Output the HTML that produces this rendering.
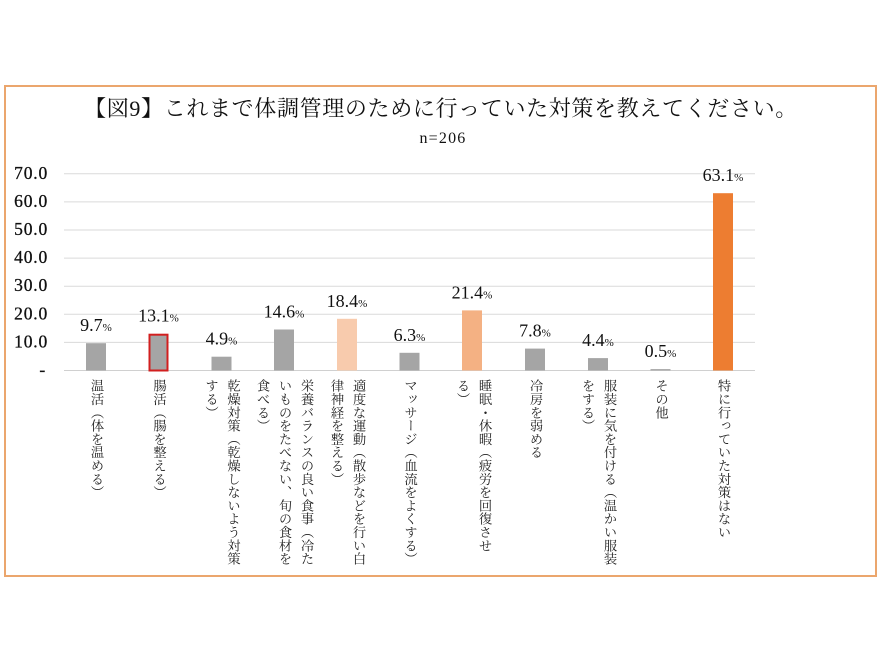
<!DOCTYPE html>
<html lang="ja">
<head>
<meta charset="utf-8">
<style>
  html,body{margin:0;padding:0;background:#fff;}
  #wrap{position:relative;width:883px;height:662px;overflow:hidden;background:#fff;}
  svg{position:absolute;left:0;top:0;}
  .vl{position:absolute;top:379px;writing-mode:vertical-rl;white-space:nowrap;
      font-family:"Liberation Serif","Noto Serif CJK SC",serif;font-size:13.3px;line-height:22px;color:#222;}
</style>
</head>
<body>
<div id="wrap">
<svg width="883" height="662" viewBox="0 0 883 662" xmlns="http://www.w3.org/2000/svg">
  <rect x="5" y="86" width="871" height="490" fill="#fff" stroke="#EBA66D" stroke-width="2"/>
  <text x="441" y="116" text-anchor="middle" font-family="Liberation Serif, Noto Serif CJK SC, serif" font-size="22" letter-spacing="0.65" fill="#111">【図9】これまで体調管理のために行っていた対策を教えてください。</text>
  <text x="443" y="143" text-anchor="middle" font-family="Liberation Serif, serif" font-size="16" letter-spacing="1.2" fill="#111">n=206</text>

  <g stroke="#DADADA" stroke-width="1">
    <line x1="64" x2="755" y1="173.8" y2="173.8"/>
    <line x1="64" x2="755" y1="201.9" y2="201.9"/>
    <line x1="64" x2="755" y1="230" y2="230"/>
    <line x1="64" x2="755" y1="258.1" y2="258.1"/>
    <line x1="64" x2="755" y1="286.2" y2="286.2"/>
    <line x1="64" x2="755" y1="314.3" y2="314.3"/>
    <line x1="64" x2="755" y1="342.4" y2="342.4"/>
    <line x1="64" x2="755" y1="370.5" y2="370.5" stroke="#D0D0D0"/>
  </g>

  <g font-family="Liberation Serif, serif" font-size="17.5" fill="#111" stroke="#111" stroke-width="0.3" text-anchor="end" letter-spacing="0.8">
    <text x="48" y="178.8">70.0</text>
    <text x="48" y="206.9">60.0</text>
    <text x="48" y="235">50.0</text>
    <text x="48" y="263.1">40.0</text>
    <text x="48" y="291.2">30.0</text>
    <text x="48" y="319.3">20.0</text>
    <text x="48" y="347.4">10.0</text>
    <text x="46" y="375.5">-</text>
  </g>

  <rect x="86" y="343.2" width="20" height="27.3" fill="#A5A5A5"/>
  <rect x="149.5" y="334.7" width="18" height="35.8" fill="#A5A5A5" stroke="#D21F1F" stroke-width="2"/>
  <rect x="211.5" y="356.7" width="20" height="13.8" fill="#A5A5A5"/>
  <rect x="274" y="329.5" width="20" height="41" fill="#A5A5A5"/>
  <rect x="337" y="318.8" width="20" height="51.7" fill="#F8CBAD"/>
  <rect x="399.5" y="352.8" width="20" height="17.7" fill="#A5A5A5"/>
  <rect x="462" y="310.4" width="20" height="60.1" fill="#F4B183"/>
  <rect x="525" y="348.6" width="20" height="21.9" fill="#A5A5A5"/>
  <rect x="588" y="358.1" width="20" height="12.4" fill="#A5A5A5"/>
  <rect x="650.5" y="369.1" width="20" height="1.4" fill="#A5A5A5"/>
  <rect x="713" y="193.2" width="20" height="177.3" fill="#ED7D31"/>

  <g font-family="Liberation Serif, serif" font-size="18" fill="#111" text-anchor="middle">
    <text x="96" y="331.2">9.7<tspan font-size="11">%</tspan></text>
    <text x="158.5" y="321.7">13.1<tspan font-size="11">%</tspan></text>
    <text x="221.5" y="344.7">4.9<tspan font-size="11">%</tspan></text>
    <text x="284" y="317.5">14.6<tspan font-size="11">%</tspan></text>
    <text x="347" y="306.8">18.4<tspan font-size="11">%</tspan></text>
    <text x="409.5" y="340.8">6.3<tspan font-size="11">%</tspan></text>
    <text x="472" y="298.4">21.4<tspan font-size="11">%</tspan></text>
    <text x="535" y="336.6">7.8<tspan font-size="11">%</tspan></text>
    <text x="598" y="346.1">4.4<tspan font-size="11">%</tspan></text>
    <text x="660.5" y="357.1">0.5<tspan font-size="11">%</tspan></text>
    <text x="723" y="181.2">63.1<tspan font-size="11">%</tspan></text>
  </g>
</svg>

<div class="vl" style="left:85px;">温活（体を温める）</div>
<div class="vl" style="left:147.5px;">腸活（腸を整える）</div>
<div class="vl" style="left:199.5px;">乾燥対策（乾燥しないよう対策<br>する）</div>
<div class="vl" style="left:251px;">栄養バランスの良い食事（冷た<br>いものをたべない、旬の食材を<br>食べる）</div>
<div class="vl" style="left:325px;">適度な運動（散歩などを行い白<br>律神経を整える）</div>
<div class="vl" style="left:398.5px;">マッサージ（血流をよくする）</div>
<div class="vl" style="left:451px;">睡眠・休暇（疲労を回復させ<br>る）</div>
<div class="vl" style="left:524px;">冷房を弱める</div>
<div class="vl" style="left:576px;">服装に気を付ける（温かい服装<br>をする）</div>
<div class="vl" style="left:649.5px;">その他</div>
<div class="vl" style="left:712px;">特に行っていた対策はない</div>
</div>
</body>
</html>
